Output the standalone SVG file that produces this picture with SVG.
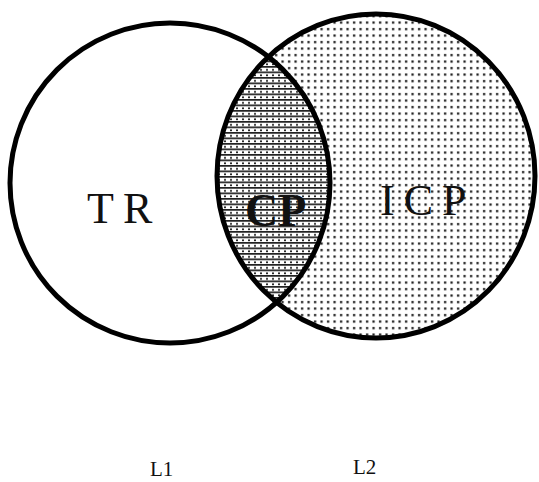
<svg xmlns="http://www.w3.org/2000/svg" width="539" height="482" viewBox="0 0 539 482">
  <style>
    .outline { fill: none; stroke: #000; stroke-width: 5; }
    .label { font-family: "Liberation Serif", "Times New Roman", serif; fill: #111; }
    .big { font-size: 44px; letter-spacing: 9px; }
    .small { font-size: 21px; }
  </style>
  <defs>
    <pattern id="dots" x="0" y="0" width="6.5" height="6.5" patternUnits="userSpaceOnUse">
      <rect x="2" y="2" width="2.2" height="2.2" fill="#111"/>
    </pattern>
    <pattern id="dense" x="0" y="0" width="6" height="5.5" patternUnits="userSpaceOnUse">
      <rect x="0" y="0" width="6" height="1.7" fill="#222"/>
      <rect x="2" y="3" width="2" height="1.7" fill="#222"/>
    </pattern>
    <clipPath id="leftClip">
      <circle cx="170" cy="183" r="160"/>
    </clipPath>
  </defs>

  <g id="right-circle-ICP">
    <ellipse cx="376" cy="176" rx="159" ry="162" fill="#fff"/>
    <ellipse cx="376" cy="176" rx="159" ry="162" fill="url(#dots)"/>
  </g>
  <g id="intersection-CP">
    <ellipse cx="376" cy="176" rx="159" ry="162" fill="#fff" clip-path="url(#leftClip)"/>
    <ellipse cx="376" cy="176" rx="159" ry="162" fill="url(#dense)" clip-path="url(#leftClip)"/>
  </g>
  <g id="left-circle-TR">
    <circle cx="170" cy="183" r="160" class="outline"/>
  </g>
  <g id="right-outline">
    <ellipse cx="376" cy="176" rx="159" ry="162" class="outline"/>
  </g>

  <g id="labels">
    <text class="label big" x="87" y="223">TR</text>
    <text class="label big" x="380" y="215">ICP</text>
    <text class="label" x="245" y="226" font-size="46" font-weight="bold" fill="#000">CP</text>
    <text class="label small" x="150" y="476">L1</text>
    <text class="label small" x="353" y="474">L2</text>
  </g>
</svg>
